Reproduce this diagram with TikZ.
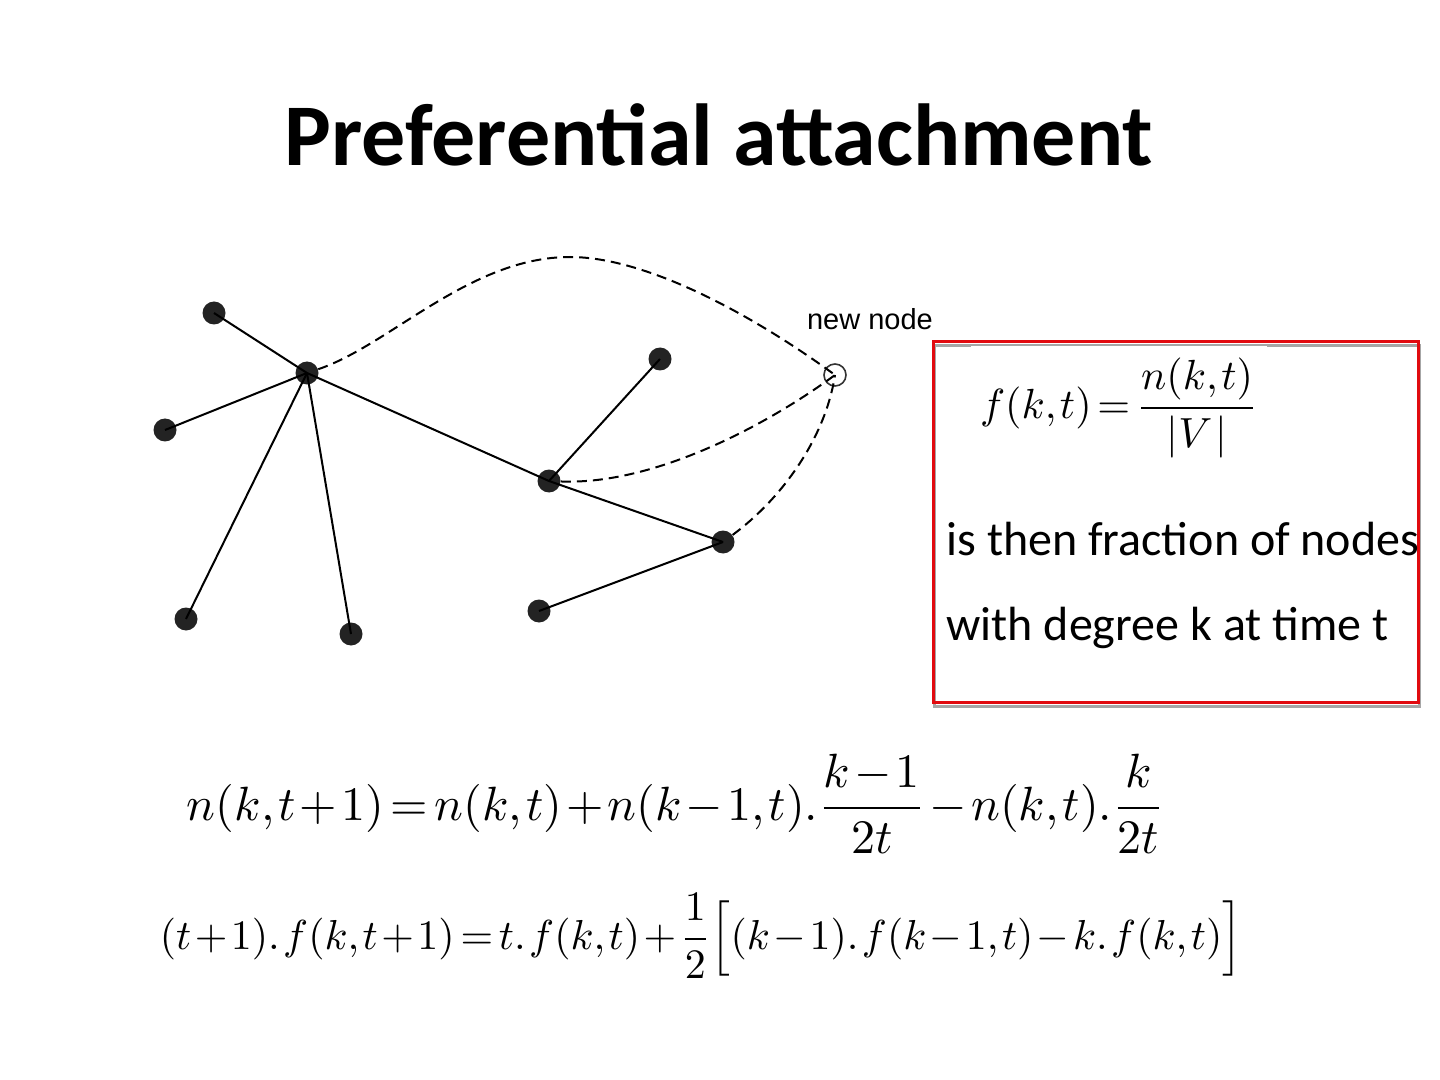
\documentclass[tikz,border=0pt]{standalone}
\usepackage{fontspec}
\setmainfont{Carlito}
\newfontfamily\labelfont{Liberation Sans}
\usepackage{graphicx}
\usetikzlibrary{positioning}
\definecolor{dotgray}{RGB}{35,35,35}
\definecolor{boxred}{RGB}{225,10,15}
\newcommand{\tightmath}{\medmuskip=1.5mu\thickmuskip=2.5mu\thinmuskip=1.5mu}
\tikzset{
  dot/.style={circle,fill=dotgray,inner sep=0pt,minimum size=11.5pt},
  newdot/.style={circle,draw=black!80,line width=0.8pt,inner sep=0pt,minimum size=11pt},
  link/.style={line width=1pt,black},
  newlink/.style={line width=1pt,black,dash pattern=on 5pt off 3pt},
  redbox/.style={rectangle,draw=boxred,line width=1.5pt,inner sep=0pt,minimum width=242.5pt,minimum height=180pt},
  boxshadow/.style={redbox,draw=black!35},
  eqnode/.style={inner sep=0pt},
  bodytext/.style={anchor=base west,inner sep=0pt,font=\fontsize{24}{28}\selectfont}
}
\begin{document}
\begin{tikzpicture}[x=0.5pt,y=-0.5pt]
  \useasboundingbox (0,0) rectangle (1440,1080);

  %% Title
  \node[anchor=base,font=\fontsize{44}{52}\selectfont\bfseries] (title) at (719,166) {Preferential attachment};

  %% Network
  \node[dot] (hub) at (307,373) {};
  \node[dot] (a) at (214,313) {};
  \node[dot] (c) at (165,430) {};
  \node[dot] (d) at (186,619) {};
  \node[dot] (e) at (351,634) {};
  \node[dot] (f) at (549,481) {};
  \node[dot] (g) at (660,359) {};
  \node[dot] (h) at (723,542) {};
  \node[dot] (i) at (539,611) {};
  \node[newdot] (new) at (835,375) {};
  \node[anchor=base,font=\labelfont\fontsize{14.5}{16}\selectfont] (newlbl) at (870,330) {new node};
  \coordinate (peak) at (570,257);

  \draw[link] (a.center) -- (hub.center);
  \draw[link] (c.center) -- (hub.center);
  \draw[link] (d.center) -- (hub.center);
  \draw[link] (e.center) -- (hub.center);
  \draw[link] (hub.center) -- (f.center);
  \draw[link] (f.center) -- (g.center);
  \draw[link] (f.center) -- (h.center);
  \draw[link] (i.center) -- (h.center);

  \draw[newlink] (hub) .. controls (390,345) and (470,257) .. (peak)
                 .. controls (650,257) and (760,320) .. (new.center);
  \draw[newlink] (f) .. controls (650,485) and (760,430) .. (new.center);
  \draw[newlink] (h) .. controls (780,500) and (825,440) .. (new.center);

  %% Definition box
  \node[boxshadow] (shadow) at (1176.5,526) {};
  \node[redbox] (box) at (1175.5,522) {};
  \node[eqnode,fill=white,inner xsep=4.5pt,inner ysep=6pt] (fdef) at (1119,408)
    {\resizebox{139pt}{!}{$\tightmath\displaystyle f(k,t)=\frac{n(k,t)}{|V\,|}$}};
  \node[bodytext] (line1) at (946,555) {is then fraction of nodes};
  \node[bodytext] (line2) at (946,640) {with degree k at time t};

  %% Recurrences
  \node[eqnode] (eq1) at (676,804)
    {\resizebox{489pt}{!}{$\tightmath\displaystyle n(k,t+1)=n(k,t)+n(k-1,t).\frac{k-1}{2t}-n(k,t).\frac{k}{2t}$}};
  \node[eqnode] (eq2) at (701,936)
    {\resizebox{541pt}{!}{$\tightmath\displaystyle (t+1).\,f(k,t+1)=t.\,f(k,t)+\frac{1}{2}\Bigl[(k-1).\,f(k-1,t)-k.\,f(k,t)\Bigr]$}};
\end{tikzpicture}
\end{document}
